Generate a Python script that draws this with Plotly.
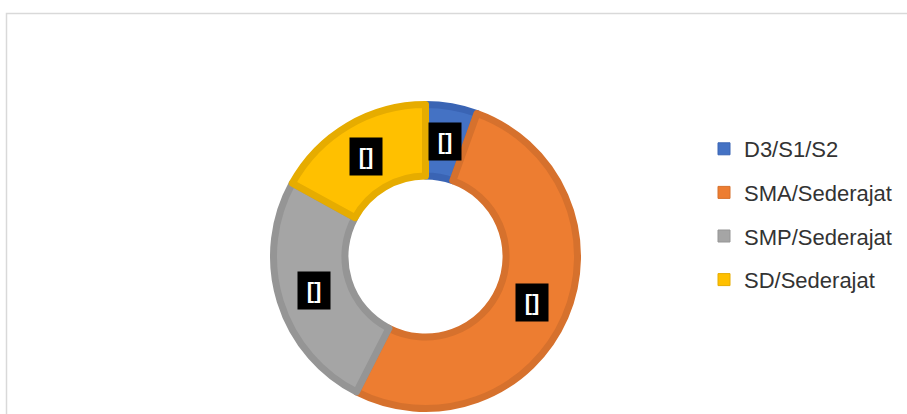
import math
import plotly.graph_objects as go

labels = ["D3/S1/S2", "SMA/Sederajat", "SMP/Sederajat", "SD/Sederajat"]
values = [5.5, 52.0, 25.5, 17.0]
colors = ["#4472C4", "#ED7D31", "#A5A5A5", "#FFC000"]
edge_colors = ["#3A64B4", "#D6712D", "#959595", "#E6AC00"]
slice_text = ["[]", "[]", "[]", "[]"]

W, H = 907, 414
cx_px, cy_px = 425.5, 256.5   # centre of donut (px from top-left)
R = 152.0                     # slice path radius (px)
hole = 0.53

fig = go.Figure()
fig.add_trace(go.Pie(
    labels=labels, values=values, sort=False, direction="clockwise", rotation=0,
    hole=hole, textinfo="none", hoverinfo="label+percent", showlegend=False,
    marker=dict(colors=colors, line=dict(color=edge_colors, width=7)),
    domain=dict(x=[(cx_px - R) / W, (cx_px + R) / W],
                y=[(H - cy_px - R) / H, (H - cy_px + R) / H]),
))

# legend entries (dummy traces so item spacing can be controlled)
for lab, col, ec in zip(labels, colors, edge_colors):
    fig.add_trace(go.Scatter(
        x=[None], y=[None], mode="markers", name=lab, legendgroup=lab,
        marker=dict(symbol="square", size=12, color=col, line=dict(color=ec, width=1)),
    ))

# data labels at mid-ring of each slice
total = sum(values)
cum = 0.0
r_lab = R * (1 + hole) / 2
for v, t in zip(values, slice_text):
    mid = (cum + v / 2) / total
    cum += v
    th = 2 * math.pi * mid
    xp = (cx_px + r_lab * math.sin(th)) / W
    yp = (H - cy_px + r_lab * math.cos(th)) / H
    fig.add_annotation(
        x=xp, y=yp, xref="paper", yref="paper", text="<b>" + t + "</b>",
        showarrow=False, bgcolor="black", width=32, height=37, borderpad=0,
        font=dict(color="white", size=22, family="Liberation Sans"),
        xanchor="center", yanchor="middle",
    )

# chart-area border
fig.add_shape(type="rect", xref="paper", yref="paper",
              x0=6.5 / W, x1=1.05, y0=-0.05, y1=(H - 13.5) / H,
              line=dict(color="#D9D9D9", width=1.5), fillcolor="rgba(0,0,0,0)",
              layer="below")

fig.update_layout(
    width=W, height=H, autosize=False,
    margin=dict(l=0, r=0, t=0, b=0),
    paper_bgcolor="white", plot_bgcolor="white",
    xaxis=dict(visible=False), yaxis=dict(visible=False),
    legend=dict(x=704 / W, y=(H - 128) / H, xanchor="left", yanchor="top",
                font=dict(family="Liberation Sans", size=22, color="#333333"),
                tracegroupgap=12, itemwidth=30, bgcolor="rgba(0,0,0,0)"),
    showlegend=True,
)

fig.write_html("out.html", config={"displayModeBar": False},
               post_script="document.body.style.margin='0';")
